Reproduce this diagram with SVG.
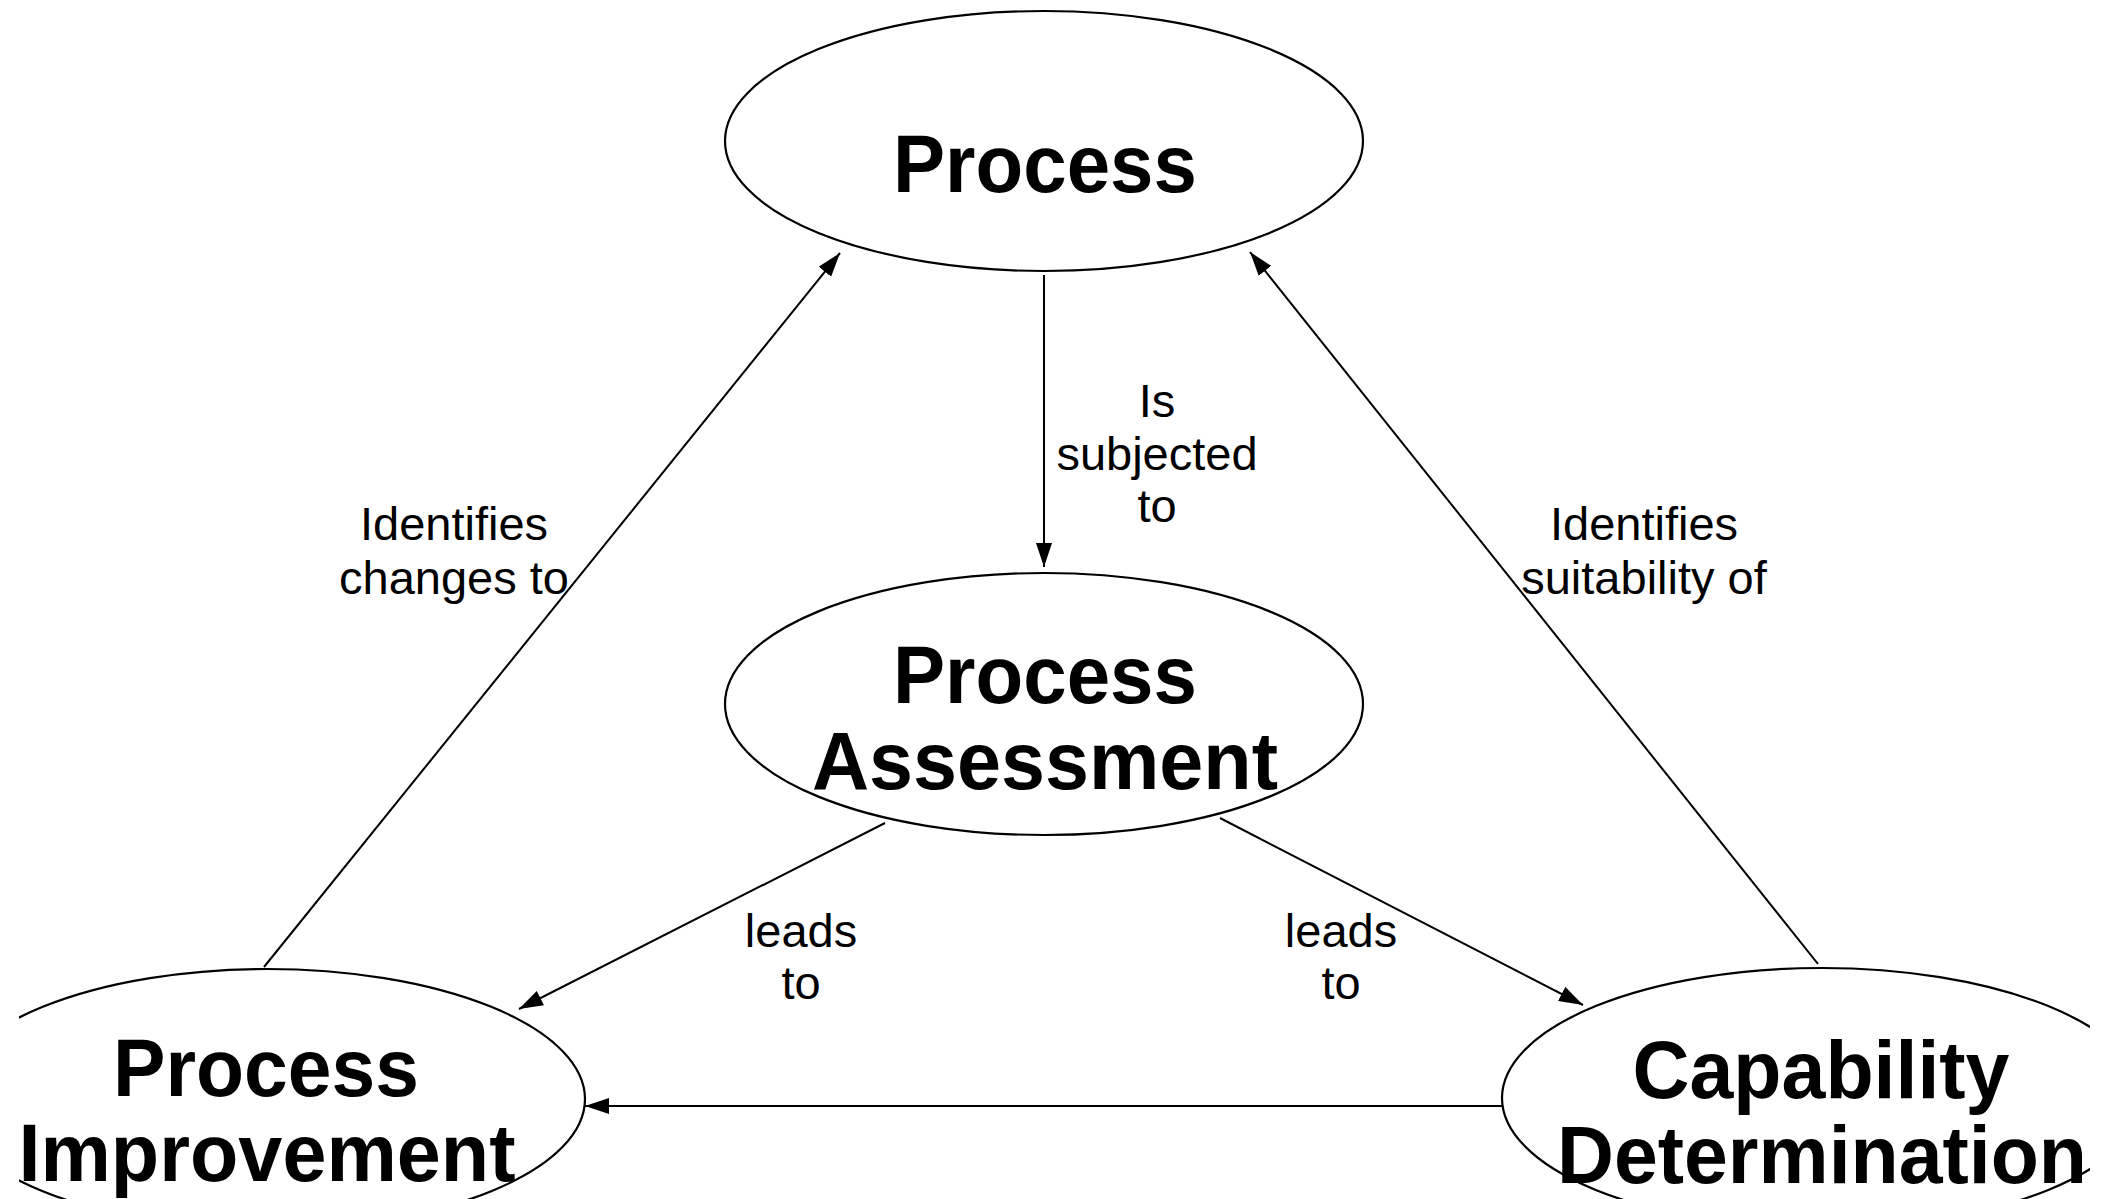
<svg xmlns="http://www.w3.org/2000/svg" width="2105" height="1199" viewBox="0 0 2105 1199">
<style>
.node{fill:#fff;stroke:#000;stroke-width:2.2}
.nt{font-family:"Liberation Sans",Arial,sans-serif;font-weight:bold;font-size:82px;fill:#000;text-anchor:middle}
.lt{font-family:"Liberation Sans",Arial,sans-serif;font-size:47px;fill:#000;text-anchor:middle}
.c{stroke:#000;stroke-width:2;fill:none;marker-end:url(#ah)}
</style>
<defs>
<marker id="ah" markerUnits="userSpaceOnUse" markerWidth="24" markerHeight="16" refX="24" refY="8" orient="auto">
<path d="M0,0 L24,8 L0,16 z" fill="#000"/>
</marker>
<clipPath id="clip"><rect x="19" y="0" width="2071" height="1199"/></clipPath>
</defs>
<rect width="2105" height="1199" fill="#fff"/>
<g id="connectors">
<line class="c" x1="1044" y1="275" x2="1044" y2="567"/>
<line class="c" x1="264" y1="967" x2="840" y2="253"/>
<line class="c" x1="1818" y1="964" x2="1250" y2="252"/>
<line class="c" x1="885" y1="823" x2="519" y2="1009"/>
<line class="c" x1="1220" y1="818" x2="1583" y2="1005"/>
<line class="c" x1="1502" y1="1106" x2="585" y2="1106"/>
</g>
<g id="labels">
<text class="lt" x="1157" y="417">Is</text>
<text class="lt" x="1157" y="470">subjected</text>
<text class="lt" x="1157" y="522">to</text>
<text class="lt" x="454" y="540">Identifies</text>
<text class="lt" x="454" y="594">changes to</text>
<text class="lt" x="1644" y="540">Identifies</text>
<text class="lt" x="1644" y="594">suitability of</text>
<text class="lt" x="801" y="947">leads</text>
<text class="lt" x="801" y="999">to</text>
<text class="lt" x="1341" y="947">leads</text>
<text class="lt" x="1341" y="999">to</text>
</g>
<g id="process">
<ellipse class="node" cx="1044" cy="141" rx="319" ry="130"/>
<text class="nt" x="1045" y="192" textLength="304" lengthAdjust="spacingAndGlyphs">Process</text>
</g>
<g id="process-assessment">
<ellipse class="node" cx="1044" cy="704" rx="319" ry="131"/>
<text class="nt" x="1045" y="703" textLength="304" lengthAdjust="spacingAndGlyphs">Process</text>
<text class="nt" x="1045" y="789" textLength="466" lengthAdjust="spacingAndGlyphs">Assessment</text>
</g>
<g id="process-improvement">
<ellipse class="node" cx="267" cy="1099" rx="318" ry="130" clip-path="url(#clip)"/>
<text class="nt" x="266" y="1096" textLength="306" lengthAdjust="spacingAndGlyphs">Process</text>
<text class="nt" x="267" y="1181" textLength="497" lengthAdjust="spacingAndGlyphs">Improvement</text>
</g>
<g id="capability-determination">
<ellipse class="node" cx="1822" cy="1098" rx="320" ry="130" clip-path="url(#clip)"/>
<text class="nt" x="1821" y="1098" textLength="377" lengthAdjust="spacingAndGlyphs">Capability</text>
<text class="nt" x="1822" y="1183" textLength="530" lengthAdjust="spacingAndGlyphs">Determination</text>
</g>
</svg>
